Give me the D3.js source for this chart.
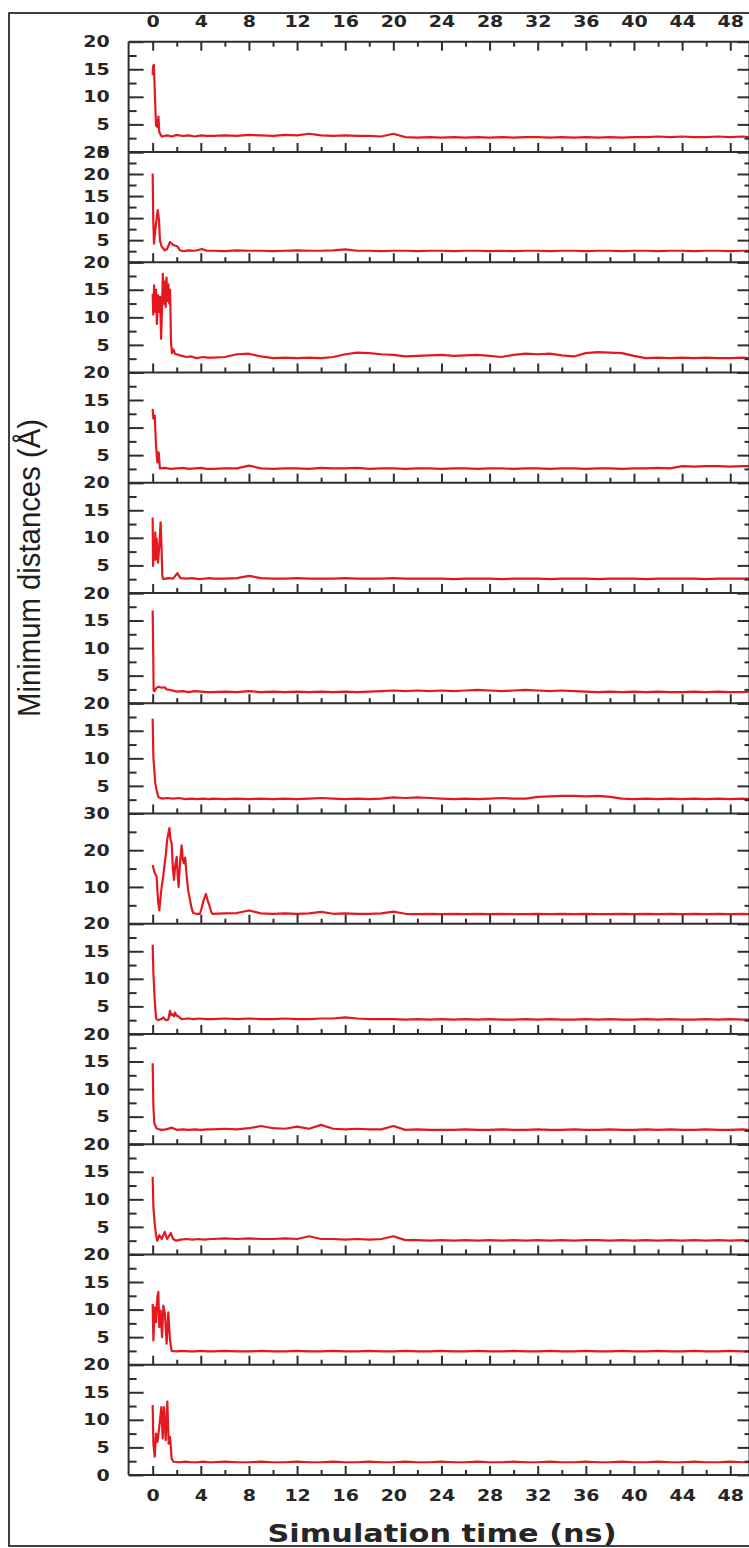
<!DOCTYPE html>
<html lang="en">
<head>
<meta charset="utf-8">
<title>Minimum distances</title>
<script src="https://d3js.org/d3.v7.min.js"></script>
<style>
  body { margin: 0; background: #fff; }
  svg { display: block; }
</style>
</head>
<body>
<script>
// y range and label step of each of the 13 stacked panels
var panelMax = [20, 25, 20, 20, 20, 20, 20, 30, 20, 20, 20, 20, 20];
var panelStep = [5, 5, 5, 5, 5, 5, 5, 10, 5, 5, 5, 5, 5];
var timeTicks = d3.range(0, 49, 4);      // 0, 4, ... 48
var timeMinor = d3.range(2, 48, 4);      // 2, 6, ... 46

// first few ns, [time (ns), distance (A)]
var early = [
  [[0,13.9],[0.03,15.5],[0.1,15.8],[0.2,9.4],[0.28,4.8],[0.39,4.5],[0.48,6.4],[0.55,3.6],[0.75,2.8],[1.2,3.0],[1.6,2.8],[2.0,3.1],[2.5,2.9],[3.0,3.0],[3.5,2.8],[4.0,3.0],[4.5,2.9]],
  [[0,20.1],[0.05,9.5],[0.11,4.2],[0.28,8.8],[0.42,11.8],[0.53,9.5],[0.6,5],[0.75,3.5],[1.0,2.7],[1.2,3.0],[1.44,4.6],[1.7,3.9],[2.05,3.6],[2.27,2.7],[2.55,2.5],[3.0,2.7],[3.5,2.6],[4.1,3.0],[4.5,2.6]],
  [[0,14.3],[0.05,10.5],[0.12,15.8],[0.2,11],[0.28,15],[0.35,8.8],[0.45,14],[0.55,11],[0.62,13.7],[0.7,6.1],[0.78,12],[0.85,17.9],[0.92,12.5],[1.0,16.5],[1.08,11.9],[1.15,17.2],[1.22,13],[1.3,16],[1.38,12.5],[1.45,15],[1.52,5.8],[1.6,3.5],[1.7,4.2],[1.86,3.4],[2.27,3.1],[2.8,2.8],[3.2,2.9],[3.65,2.6],[4.2,2.8],[4.6,2.7]],
  [[0,13.4],[0.06,11.6],[0.17,12.2],[0.28,6.7],[0.39,3.7],[0.5,5.5],[0.6,2.6],[1.0,2.7],[1.5,2.5],[2.0,2.6],[2.5,2.7],[3.0,2.5],[3.5,2.6],[4.0,2.7],[4.5,2.5]],
  [[0,13.7],[0.03,4.9],[0.1,9.2],[0.16,6],[0.22,11],[0.28,6.1],[0.33,9.8],[0.44,5.5],[0.55,8.5],[0.66,12.8],[0.75,7.3],[0.8,3.1],[0.89,2.5],[1.3,2.7],[1.7,2.6],[2.05,3.6],[2.3,2.7],[2.8,2.6],[3.3,2.7],[3.8,2.5],[4.3,2.6],[4.7,2.7]],
  [[0,16.8],[0.05,8.4],[0.08,2.3],[0.15,2.2],[0.33,2.8],[0.5,3.0],[0.75,2.8],[1.0,2.9],[1.16,2.5],[1.5,2.4],[2.0,2.1],[2.5,2.2],[3.0,2.0],[3.5,2.2],[4.0,2.1],[4.5,2.0]],
  [[0,17.2],[0.06,10.2],[0.14,7.8],[0.22,5.4],[0.33,4.2],[0.47,3.0],[0.75,2.7],[1.2,2.8],[1.7,2.7],[2.2,2.8],[2.7,2.6],[3.2,2.7],[3.7,2.6],[4.2,2.7],[4.7,2.6]],
  [[0,16],[0.15,14],[0.33,12.8],[0.45,6],[0.55,3.6],[0.65,7],[0.75,10],[0.88,13],[1.0,16.4],[1.1,19],[1.2,22.7],[1.3,24.5],[1.39,26],[1.48,23],[1.58,21.8],[1.68,15],[1.77,11.9],[1.88,16],[2.0,18.2],[2.08,13],[2.16,10],[2.28,17],[2.41,21.3],[2.5,17.5],[2.6,16.4],[2.7,18],[2.83,12.8],[2.95,9],[3.1,6.5],[3.25,4],[3.38,2.9],[3.6,2.7],[3.93,2.7],[4.05,4],[4.2,6],[4.3,7],[4.43,8.1],[4.55,6.5],[4.7,5.1],[4.9,2.9]],
  [[0,16.2],[0.06,11],[0.17,6.2],[0.28,2.8],[0.45,2.5],[0.7,2.7],[0.89,3.0],[1.1,2.5],[1.3,2.6],[1.44,4.2],[1.55,3.4],[1.66,3.6],[1.78,3.2],[1.86,3.9],[2.0,3.3],[2.13,3.2],[2.4,2.7],[2.9,2.8],[3.4,2.7],[3.9,2.8],[4.4,2.7]],
  [[0,14.7],[0.06,6.8],[0.14,3.8],[0.33,2.85],[0.7,2.6],[1.1,2.7],[1.6,3.0],[2.0,2.6],[2.5,2.7],[3.0,2.6],[3.5,2.7],[4.0,2.6],[4.5,2.7]],
  [[0,14.1],[0.06,8.6],[0.17,5.6],[0.28,3.5],[0.39,2.5],[0.55,3.5],[0.75,2.8],[1.0,4.1],[1.2,2.8],[1.35,3.3],[1.5,3.9],[1.7,2.8],[1.95,2.5],[2.3,2.7],[2.8,2.8],[3.3,2.7],[3.8,2.8],[4.3,2.7],[4.8,2.8]],
  [[0,11],[0.06,4.4],[0.17,10.4],[0.28,7.7],[0.39,12.2],[0.47,13.2],[0.55,6.8],[0.66,9.8],[0.78,5],[0.89,10.7],[1.02,9.2],[1.16,3.8],[1.3,9.5],[1.44,4.4],[1.58,2.5],[2.0,2.4],[2.5,2.5],[3.0,2.4],[3.5,2.4],[4.0,2.5],[4.5,2.4]],
  [[0,12.7],[0.06,5.7],[0.17,3.3],[0.28,7.5],[0.4,6],[0.55,8.7],[0.72,12.3],[0.83,6.6],[0.94,12.3],[1.08,6.3],[1.22,13.3],[1.33,5.7],[1.44,6.9],[1.58,3.0],[1.72,2.4],[2.2,2.3],[2.7,2.4],[3.2,2.3],[3.7,2.3],[4.2,2.4],[4.7,2.3]]
];

// rest of the run, one value per ns from 5 to 49, then the last frame
var tailTimes = d3.range(5, 50).concat([49.6]);
var tail = [
  [2.9,3.0,2.9,3.1,3.0,2.9,3.1,3.0,3.3,3.0, 2.9,3.0,2.9,2.9,2.8,3.3,2.7,2.6,2.7,2.6, 2.7,2.6,2.7,2.6,2.7,2.6,2.7,2.7,2.6,2.7, 2.6,2.7,2.6,2.7,2.6,2.7,2.7,2.8,2.7,2.8, 2.7,2.7,2.8,2.7,2.8, 2.7],
  [2.6,2.5,2.7,2.6,2.6,2.5,2.6,2.7,2.6,2.6, 2.7,2.9,2.6,2.6,2.5,2.6,2.6,2.5,2.6,2.6, 2.5,2.6,2.6,2.5,2.6,2.5,2.6,2.6,2.5,2.6, 2.6,2.5,2.6,2.6,2.5,2.6,2.6,2.5,2.6,2.6, 2.5,2.6,2.6,2.5,2.6, 2.6],
  [2.7,2.8,3.3,3.4,2.9,2.6,2.7,2.6,2.7,2.6, 2.8,3.3,3.6,3.5,3.3,3.2,2.9,3.0,3.1,3.2, 3.0,3.1,3.2,3.0,2.8,3.2,3.4,3.3,3.4,3.1, 2.9,3.5,3.7,3.6,3.5,3.0,2.6,2.7,2.6,2.7, 2.6,2.7,2.6,2.6,2.7, 2.6],
  [2.5,2.6,2.6,3.1,2.6,2.5,2.6,2.6,2.5,2.7, 2.6,2.6,2.7,2.5,2.6,2.6,2.5,2.6,2.6,2.5, 2.6,2.6,2.5,2.6,2.6,2.5,2.6,2.6,2.5,2.6, 2.6,2.5,2.6,2.6,2.5,2.6,2.6,2.7,2.6,3.0, 2.9,3.0,3.0,2.9,3.0, 3.0],
  [2.6,2.6,2.7,3.1,2.7,2.6,2.6,2.7,2.6,2.6, 2.6,2.7,2.6,2.6,2.6,2.7,2.6,2.6,2.6,2.6, 2.5,2.6,2.6,2.6,2.5,2.6,2.6,2.6,2.5,2.6, 2.6,2.6,2.5,2.6,2.6,2.6,2.5,2.6,2.6,2.6, 2.6,2.5,2.6,2.6,2.6, 2.6],
  [2.0,2.1,2.0,2.2,2.0,2.1,2.0,2.1,2.0,2.1, 2.0,2.1,2.0,2.1,2.2,2.3,2.2,2.3,2.2,2.3, 2.2,2.3,2.4,2.3,2.2,2.3,2.4,2.3,2.2,2.3, 2.2,2.1,2.0,2.1,2.0,2.1,2.0,2.1,2.0,2.0, 2.1,2.0,2.1,2.0,2.0, 2.1],
  [2.7,2.6,2.7,2.6,2.7,2.6,2.7,2.6,2.7,2.8, 2.7,2.6,2.7,2.6,2.7,2.9,2.8,2.9,2.8,2.7, 2.6,2.7,2.6,2.7,2.8,2.7,2.7,3.0,3.1,3.2, 3.2,3.1,3.2,3.0,2.7,2.6,2.7,2.6,2.7,2.6, 2.7,2.6,2.7,2.6,2.7, 2.6],
  [2.7,2.8,2.9,3.6,2.8,2.7,2.8,2.7,2.8,3.2, 2.7,2.8,2.7,2.7,2.8,3.3,2.7,2.6,2.7,2.6, 2.7,2.6,2.7,2.6,2.7,2.6,2.6,2.7,2.6,2.7, 2.6,2.7,2.6,2.6,2.7,2.6,2.7,2.6,2.7,2.6, 2.7,2.6,2.7,2.6,2.7, 2.6],
  [2.7,2.8,2.7,2.8,2.7,2.7,2.8,2.7,2.7,2.8, 2.8,3.0,2.8,2.7,2.7,2.7,2.6,2.7,2.6,2.7, 2.6,2.7,2.6,2.7,2.6,2.6,2.7,2.6,2.7,2.6, 2.6,2.7,2.6,2.7,2.6,2.6,2.7,2.6,2.7,2.6, 2.6,2.7,2.6,2.7,2.6, 2.6],
  [2.7,2.8,2.7,2.9,3.3,2.9,2.8,3.2,2.8,3.5, 2.8,2.7,2.8,2.7,2.7,3.3,2.6,2.7,2.6,2.6, 2.6,2.7,2.6,2.6,2.7,2.6,2.6,2.7,2.6,2.6, 2.7,2.6,2.6,2.7,2.6,2.6,2.7,2.6,2.7,2.6, 2.6,2.7,2.6,2.6,2.7, 2.6],
  [2.8,2.9,2.8,2.9,2.8,2.8,2.9,2.8,3.3,2.8, 2.8,2.7,2.8,2.7,2.8,3.3,2.6,2.6,2.5,2.6, 2.5,2.6,2.5,2.6,2.5,2.6,2.5,2.6,2.5,2.6, 2.5,2.6,2.6,2.5,2.6,2.5,2.6,2.5,2.6,2.5, 2.6,2.5,2.6,2.5,2.6, 2.5],
  [2.4,2.5,2.4,2.4,2.5,2.4,2.4,2.5,2.4,2.4, 2.5,2.4,2.4,2.5,2.4,2.4,2.5,2.4,2.4,2.5, 2.4,2.4,2.5,2.4,2.4,2.5,2.4,2.4,2.5,2.4, 2.4,2.5,2.4,2.4,2.5,2.4,2.4,2.5,2.4,2.4, 2.5,2.4,2.4,2.5,2.4, 2.4],
  [2.3,2.4,2.3,2.3,2.4,2.3,2.3,2.4,2.3,2.3, 2.4,2.3,2.3,2.4,2.3,2.3,2.4,2.3,2.3,2.4, 2.3,2.3,2.4,2.3,2.3,2.4,2.3,2.3,2.4,2.3, 2.3,2.4,2.3,2.3,2.4,2.3,2.3,2.4,2.3,2.3, 2.4,2.3,2.3,2.4,2.3, 2.3]
];

var W = 749, H = 1548;
var left = 128.6, right = 749.5;
var top0 = 41.7, panelH = 110.25;
var axisColor = "#2e2e2e";
var lineColor = "#e3191f";
var tickFont = "'DejaVu Sans', sans-serif";

var svg = d3.select("body").append("svg")
  .attr("width", W)
  .attr("height", H);

svg.append("rect")
  .attr("width", W).attr("height", H)
  .attr("fill", "#fff");

// outer frame of the figure
svg.append("rect")
  .attr("x", 9).attr("y", 13)
  .attr("width", 770).attr("height", 1533)
  .attr("fill", "none")
  .attr("stroke", "#111")
  .attr("stroke-width", 1.6);

var x = d3.scaleLinear().domain([-2, 49.6]).range([left, right]);

function styleTicks(g) {
  g.select(".domain").remove();
  g.selectAll(".tick line").attr("stroke", axisColor).attr("stroke-width", 2);
  g.selectAll(".tick text")
    .attr("fill", "#262626")
    .style("font-family", tickFont)
    .style("font-weight", "bold")
    .style("font-size", "16px")
    .attr("textLength", function(d) { return String(d).length * 13.2; })
    .attr("lengthAdjust", "spacingAndGlyphs");
}

var lineGen = d3.line()
  .x(function(d) { return x(d[0]); });

panelMax.forEach(function(ymax, i) {
  var y0 = top0 + i * panelH;
  var y1 = y0 + panelH;
  var y = d3.scaleLinear().domain([0, ymax]).range([y1, y0]);
  var step = panelStep[i];
  var majors = d3.range(0, ymax + 0.01, step);
  var minors = d3.range(step / 2, ymax, step);
  // the "0" of a panel sits under the top label of the next one;
  // it only shows as a separate glyph below the first and the last panel
  var labelled = (i === 0 || i === panelMax.length - 1) ? majors : majors.slice(1);
  var g = svg.append("g");

  g.append("clipPath").attr("id", "clip" + i)
    .append("rect")
    .attr("x", left).attr("y", y0)
    .attr("width", right - left).attr("height", panelH);

  // data
  var series = early[i].concat(tailTimes.map(function(t, k) { return [t, tail[i][k]]; }));
  g.append("path")
    .datum(series)
    .attr("clip-path", "url(#clip" + i + ")")
    .attr("fill", "none")
    .attr("stroke", lineColor)
    .attr("stroke-width", 2.2)
    .attr("stroke-linejoin", "round")
    .attr("d", lineGen.y(function(d) { return y(d[1]); }));

  // left axis, ticks inward
  g.append("g")
    .attr("transform", "translate(" + left + ",0)")
    .call(d3.axisLeft(y).tickValues(majors).tickSize(-15).tickFormat(""))
    .call(styleTicks);
  g.append("g")
    .attr("transform", "translate(" + left + ",0)")
    .call(d3.axisLeft(y).tickValues(labelled).tickSize(0).tickPadding(19).tickFormat(d3.format("d")))
    .call(styleTicks);
  g.append("g")
    .attr("transform", "translate(" + left + ",0)")
    .call(d3.axisLeft(y).tickValues(minors).tickSize(-8).tickFormat(""))
    .call(styleTicks);

  // right axis
  g.append("g")
    .attr("transform", "translate(" + right + ",0)")
    .call(d3.axisRight(y).tickValues(majors).tickSize(-12).tickFormat(""))
    .call(styleTicks);
  g.append("g")
    .attr("transform", "translate(" + right + ",0)")
    .call(d3.axisRight(y).tickValues(minors).tickSize(-5).tickFormat(""))
    .call(styleTicks);

  // bottom axis of the panel
  var last = i === panelMax.length - 1;
  g.append("g")
    .attr("transform", "translate(0," + y1 + ")")
    .call(d3.axisBottom(x).tickValues(timeTicks).tickSize(-9).tickPadding(15)
      .tickFormat(last ? d3.format("d") : ""))
    .call(styleTicks);
  g.append("g")
    .attr("transform", "translate(0," + y1 + ")")
    .call(d3.axisBottom(x).tickValues(timeMinor).tickSize(-5).tickFormat(""))
    .call(styleTicks);

  // panel frame line along the bottom
  g.append("line")
    .attr("x1", left).attr("x2", right)
    .attr("y1", y1).attr("y2", y1)
    .attr("stroke", axisColor).attr("stroke-width", 2);
});

// top axis with labels
svg.append("g")
  .attr("transform", "translate(0," + top0 + ")")
  .call(d3.axisTop(x).tickValues(timeTicks).tickSize(-9).tickPadding(14.5).tickFormat(d3.format("d")))
  .call(styleTicks);
svg.append("g")
  .attr("transform", "translate(0," + top0 + ")")
  .call(d3.axisTop(x).tickValues(timeMinor).tickSize(-5).tickFormat(""))
  .call(styleTicks);

var bottom = top0 + panelMax.length * panelH;
svg.append("line")
  .attr("x1", left).attr("x2", right).attr("y1", top0).attr("y2", top0)
  .attr("stroke", axisColor).attr("stroke-width", 2);
svg.append("line")
  .attr("x1", left).attr("x2", left).attr("y1", top0).attr("y2", bottom)
  .attr("stroke", axisColor).attr("stroke-width", 2);
svg.append("line")
  .attr("x1", right).attr("x2", right).attr("y1", top0).attr("y2", bottom)
  .attr("stroke", axisColor).attr("stroke-width", 2);

// axis titles
svg.append("text")
  .attr("x", 442).attr("y", 1541.5)
  .attr("text-anchor", "middle")
  .attr("textLength", 349)
  .attr("lengthAdjust", "spacingAndGlyphs")
  .style("font-family", tickFont)
  .style("font-weight", "bold")
  .style("font-size", "25px")
  .attr("fill", "#262626")
  .text("Simulation time (ns)");

svg.append("text")
  .attr("transform", "translate(40,568) rotate(-90)")
  .attr("text-anchor", "middle")
  .attr("textLength", 298)
  .attr("lengthAdjust", "spacingAndGlyphs")
  .style("font-family", "'Liberation Sans Narrow', 'Liberation Sans', sans-serif")
  .style("font-size", "31px")
  .attr("fill", "#1e1e1e")
  .text("Minimum distances (Å)");
</script>
</body>
</html>
